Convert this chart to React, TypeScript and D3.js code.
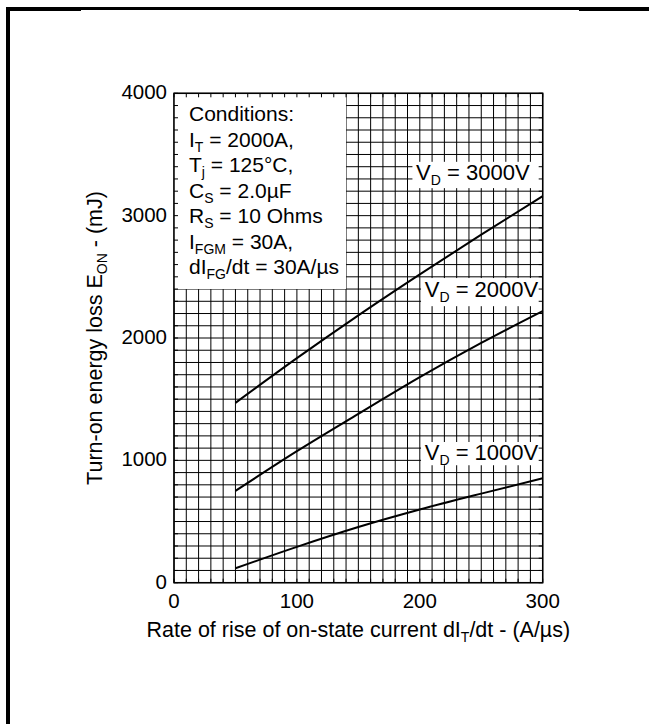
import React from "react";
import * as d3 from "d3";

const width = 649;
const height = 724;
const plot = { left: 174, right: 542.7, top: 93.3, bottom: 582.7 };

// dI/dt (A/us) sample points and turn-on energy loss (mJ) per voltage
const rates = [50, 100, 150, 200, 250, 300];
const e3000 = [1470, 1835, 2185, 2520, 2845, 3160];
const e2000 = [750, 1075, 1380, 1680, 1960, 2220];
const e1000 = [118, 293, 455, 598, 728, 853];

const xTicks = [0, 100, 200, 300];
const yTicks = [0, 1000, 2000, 3000, 4000];

const conditions = [
  ["Conditions:", "", ""],
  ["I", "T", " = 2000A,"],
  ["T", "j", " = 125°C,"],
  ["C", "S", " = 2.0µF"],
  ["R", "S", " = 10 Ohms"],
  ["I", "FGM", " = 30A,"],
  ["dI", "FG", "/dt = 30A/µs"],
];

const labels = [
  { text: "3000V", x: 197, y: 3290, box: [194, 300, 3225, 3440] },
  { text: "2000V", x: 204, y: 2335, box: [201, 300, 2260, 2490] },
  { text: "1000V", x: 204, y: 1000, box: [201, 300, 960, 1150] },
];

const font = "'Liberation Sans', Arial, sans-serif";

export default function App() {
  const x = d3.scaleLinear().domain([0, 300]).range([plot.left, plot.right]);
  const y = d3.scaleLinear().domain([0, 4000]).range([plot.bottom, plot.top]);
  const line = d3
    .line<number>()
    .x((d, i) => x(rates[i]))
    .y(d => y(d))
    .curve(d3.curveMonotoneX);

  const xGrid = d3.range(0, 301, 10);
  const yGrid = d3.range(0, 4001, 100);

  return (
    <svg width={width} height={height} style={{ position: "absolute", left: 0, top: 0, background: "#fff" }} fontFamily={font}>
      {/* page frame */}
      <rect x={6} y={7} width={75} height={4} fill="#000" />
      <rect x={81} y={7} width={498} height={3} fill="#000" />
      <rect x={579} y={7} width={70} height={4} fill="#000" />
      <rect x={6} y={7} width={4} height={717} fill="#000" />

      {/* grid */}
      {xGrid.map(v => (
        <line key={"gx" + v} x1={x(v)} x2={x(v)} y1={plot.top} y2={plot.bottom} stroke="#000" strokeWidth={1} />
      ))}
      {yGrid.map(v => (
        <line key={"gy" + v} x1={plot.left} x2={plot.right} y1={y(v)} y2={y(v)} stroke="#000" strokeWidth={1} />
      ))}

      {/* white boxes behind text */}
      <rect x={x(0)} y={y(4000)} width={x(140) - x(0)} height={y(2400) - y(4000)} fill="#fff" />
      {labels.map(l => (
        <rect key={"b" + l.text} x={x(l.box[0])} y={y(l.box[3])} width={x(l.box[1]) - x(l.box[0])} height={y(l.box[2]) - y(l.box[3])} fill="#fff" />
      ))}

      {/* inward ticks */}
      {xGrid.map(v => (
        <g key={"tx" + v}>
          <line x1={x(v)} x2={x(v)} y1={plot.top} y2={plot.top + 4} stroke="#000" />
          <line x1={x(v)} x2={x(v)} y1={plot.bottom} y2={plot.bottom - 4} stroke="#000" />
        </g>
      ))}
      {yGrid.map(v => (
        <g key={"ty" + v}>
          <line x1={plot.left} x2={plot.left + 4} y1={y(v)} y2={y(v)} stroke="#000" />
          <line x1={plot.right} x2={plot.right - 4} y1={y(v)} y2={y(v)} stroke="#000" />
        </g>
      ))}
      <rect x={plot.left} y={plot.top} width={plot.right - plot.left} height={plot.bottom - plot.top} fill="none" stroke="#000" strokeWidth={1.5} />

      {/* curves */}
      {[e3000, e2000, e1000].map((s, i) => (
        <path key={"c" + i} d={line(s) || ""} fill="none" stroke="#000" strokeWidth={2} />
      ))}

      {/* conditions */}
      <g fontSize={21} fill="#000">
        {conditions.map((c, i) => (
          <text key={"cd" + i} x={189} y={121 + i * 25.5}>
            {c[0]}
            {c[1] && (
              <tspan dy={5} fontSize={14}>{c[1]}</tspan>
            )}
            {c[1] ? <tspan dy={-5}>{c[2]}</tspan> : null}
          </text>
        ))}
      </g>

      {/* voltage labels */}
      <g fontSize={22} fill="#000">
        {labels.map(l => (
          <text key={"l" + l.text} x={x(l.x)} y={y(l.y)}>
            V<tspan dy={5} fontSize={14}>D</tspan>
            <tspan dy={-5}> = {l.text}</tspan>
          </text>
        ))}
      </g>

      {/* tick labels */}
      <g fontSize={20.5} fill="#000">
        {yTicks.map(v => (
          <text key={"yl" + v} x={167} y={y(v) - 1.5} textAnchor="end" dominantBaseline="central">{v}</text>
        ))}
        {xTicks.map(v => (
          <text key={"xl" + v} x={x(v)} y={608} textAnchor="middle">{v}</text>
        ))}
      </g>

      {/* axis titles */}
      <text x={(plot.left + plot.right) / 2} y={637} fontSize={21.5} textAnchor="middle">
        Rate of rise of on-state current dI<tspan dy={5} fontSize={14}>T</tspan><tspan dy={-5}>/dt - (A/µs)</tspan>
      </text>
      <text transform={`translate(102, ${(plot.top + plot.bottom) / 2}) rotate(-90)`} fontSize={21.5} textAnchor="middle">
        Turn-on energy loss E<tspan dy={5} fontSize={14}>ON</tspan><tspan dy={-5}> - (mJ)</tspan>
      </text>
    </svg>
  );
}
